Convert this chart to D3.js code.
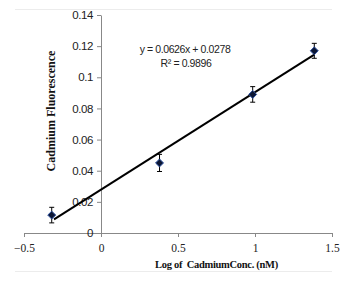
<!DOCTYPE html>
<html><head><meta charset="utf-8">
<script src="https://cdn.jsdelivr.net/npm/d3@7"></script>
<style>body{margin:0;background:#fff}svg{display:block}</style>
</head><body>
<script>
const xValues = [-0.32, 0.38, 0.985, 1.385];
const yValues = [0.0115, 0.045, 0.089, 0.117];
const yErrors = [0.005, 0.0055, 0.005, 0.0048];
const xTicks = [-0.5, 0, 0.5, 1, 1.5];
const yTicks = [0, 0.02, 0.04, 0.06, 0.08, 0.1, 0.12, 0.14];
const slope = 0.0626, intercept = 0.0278;
const equationText = "y = 0.0626x + 0.0278";
const r2Text = "R\u00b2 = 0.9896";
const xTitle = "Log of  CadmiumConc. (nM)";
const yTitle = "Cadmium Fluorescence";

const W = 350, H = 284;
const svg = d3.select("body").append("svg").attr("width", W).attr("height", H);
const x = d3.scaleLinear().domain([-0.5, 1.5]).range([24, 332]);
const y = d3.scaleLinear().domain([0, 0.14]).range([233, 15]);
const sans = "'Liberation Sans',Arial,sans-serif";
const serif = "'Liberation Serif','Times New Roman',serif";

// faint chart border lines
svg.append("line").attr("x1", 15).attr("x2", 332).attr("y1", 9.5).attr("y2", 9.5).attr("stroke", "#ececec");
svg.append("line").attr("x1", 15).attr("x2", 332).attr("y1", 271.5).attr("y2", 271.5).attr("stroke", "#ececec");

// x axis at y=0
const gx = svg.append("g").attr("transform", `translate(0,${y(0)})`)
  .call(d3.axisBottom(x).tickValues(xTicks).tickFormat(d => d3.format("")(d)).tickSize(4).tickSizeOuter(0));
gx.select(".domain").attr("stroke", "#888");
gx.selectAll(".tick line").attr("stroke", "#888");
gx.selectAll(".tick text").attr("font-family", serif).attr("font-size", 11.5).attr("fill", "#222").attr("y", 9).attr("dy", "0.9em");

// y axis at x=0
const gy = svg.append("g").attr("transform", `translate(${x(0)},0)`)
  .call(d3.axisLeft(y).tickValues(yTicks).tickFormat(d => d3.format("")(+d.toFixed(2))).tickSize(4).tickSizeOuter(0));
gy.select(".domain").attr("stroke", "#888");
gy.selectAll(".tick line").attr("stroke", "#888");
gy.selectAll(".tick text").attr("font-family", sans).attr("font-size", 11.5).attr("letter-spacing", -0.4).attr("fill", "#222").attr("x", -8);

// trendline
const x0 = d3.min(xValues) + 0.015, x1 = d3.max(xValues);
svg.append("line")
  .attr("x1", x(x0)).attr("y1", y(slope * x0 + intercept))
  .attr("x2", x(x1)).attr("y2", y(slope * x1 + intercept))
  .attr("stroke", "#000").attr("stroke-width", 2);

// error bars
const pts = xValues.map((v, i) => ({x: v, y: yValues[i], e: yErrors[i]}));
const eb = svg.append("g").attr("stroke", "#000").attr("stroke-width", 1);
pts.forEach(p => {
  eb.append("line").attr("x1", x(p.x)).attr("x2", x(p.x)).attr("y1", y(p.y - p.e)).attr("y2", y(p.y + p.e));
  eb.append("line").attr("x1", x(p.x) - 2.5).attr("x2", x(p.x) + 2.5).attr("y1", y(p.y - p.e)).attr("y2", y(p.y - p.e));
  eb.append("line").attr("x1", x(p.x) - 2.5).attr("x2", x(p.x) + 2.5).attr("y1", y(p.y + p.e)).attr("y2", y(p.y + p.e));
});

// diamond markers
svg.append("g").selectAll("path").data(pts).join("path")
  .attr("d", d3.symbol(d3.symbolDiamond2, 40))
  .attr("transform", d => `translate(${x(d.x)},${y(d.y)})`)
  .attr("fill", "#0b1634").attr("stroke", "#2b4f9e").attr("stroke-width", 1);

// equation
svg.append("text").attr("x", 185).attr("y", 53).attr("text-anchor", "middle")
  .attr("font-family", sans).attr("font-size", 10.5).attr("letter-spacing", -0.4).attr("fill", "#222").text(equationText);
svg.append("text").attr("x", 186).attr("y", 67).attr("text-anchor", "middle")
  .attr("font-family", sans).attr("font-size", 10.5).attr("letter-spacing", -0.4).attr("fill", "#222").text(r2Text);

// axis titles
svg.append("text").attr("x", 155).attr("y", 268).attr("text-anchor", "start")
  .style("white-space", "pre")
  .attr("font-family", serif).attr("font-weight", "bold").attr("font-size", 10.5).attr("letter-spacing", -0.3).attr("fill", "#111").text(xTitle);
svg.append("text").attr("transform", "translate(55,111) rotate(-90)").attr("text-anchor", "middle")
  .attr("font-family", serif).attr("font-weight", "bold").attr("font-size", 12).attr("fill", "#111").text(yTitle);
</script>
</body></html>
